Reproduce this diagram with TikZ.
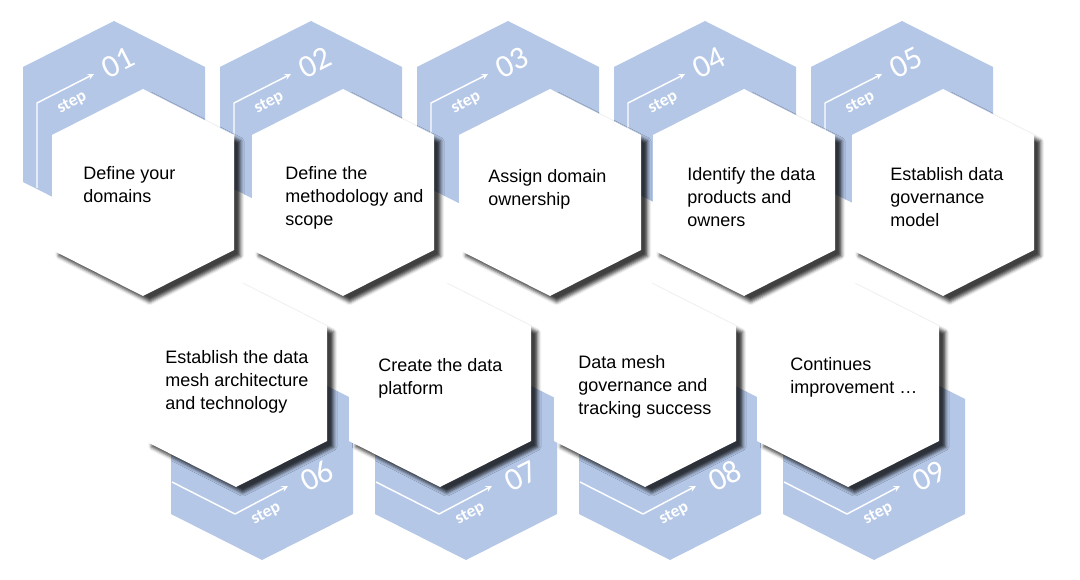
\documentclass[tikz,border=0pt]{standalone}
\usepackage{fontspec}
\setmainfont{Liberation Sans}
\newfontfamily\stepfont{Carlito}
\usetikzlibrary{shadows.blur}
\definecolor{stepblue}{RGB}{180,199,231}
\tikzset{
	backhex/.style={fill=stepblue},
	fronthex/.style={fill=white, blur shadow={shadow xshift=5pt,
		shadow yshift=-4.5pt, shadow blur radius=2.5pt, shadow opacity=75}},
	stepline/.style={white, line width=1.1pt},
	steptag/.style={text=white, inner sep=0pt, rotate=27,
		font=\stepfont\bfseries\fontsize{13}{13}\selectfont},
	stepnum/.style={text=white, inner sep=0pt, rotate=27,
		font=\stepfont\fontsize{24}{24}\selectfont},
	hextext/.style={anchor=north west, align=left, inner sep=0pt,
		font=\fontsize{13.5}{17.3}\selectfont}
}
% hexagon drawn from its centre
\def\hexpath{++(0,-103.5) -- ++(91,46) -- ++(0,115) -- ++(-91,46)
	-- ++(-91,-46) -- ++(0,-115) -- cycle}
\begin{document}
\begin{tikzpicture}[x=0.75pt, y=-0.75pt, line join=round, >=stealth]
	\useasboundingbox (0,0) rectangle (1080,580);
	% upper row, blue hexagons behind
	\foreach \n/\bx in {01/114,02/311,03/508,04/705,05/902}{
		\fill[backhex] (\bx,124.5) \hexpath;
		\draw[stepline,->] (\bx-77,188) -- (\bx-77,103) -- (\bx-20,74);
		\node[steptag] (tag\n) at (\bx-42,103) {step};
		\node[stepnum] (num\n) at (\bx+4,62.5) {\n};
	}
	% lower row, blue hexagons behind
	\foreach \n/\bx in {06/262,07/466,08/670,09/874}{
		\fill[backhex] (\bx,456.5) \hexpath;
		\draw[stepline,->] (\bx-90,482) -- (\bx-27,514) -- (\bx+26,486);
		\node[steptag] (tag\n) at (\bx+4,514) {step};
		\node[stepnum] (num\n) at (\bx+55,476) {\n};
	}
	% white hexagons
	\foreach \wx in {143,343,550,744,943}
		\path[fronthex] (\wx,192.5) \hexpath;
	\foreach \wx in {236,440,645,848}
		\path[fronthex] (\wx,383.5) \hexpath;
	\foreach \n/\tx/\ty/\txt in {
		1/83/166/{Define your\\domains},
		2/285/166/{Define the\\methodology and\\scope},
		3/488/169/{Assign domain\\ownership},
		4/687/167/{Identify the data\\products and\\owners},
		5/890/167/{Establish data\\governance\\model},
		6/165/350/{Establish the data\\mesh architecture\\and technology},
		7/378/358/{Create the data\\platform},
		8/578/355/{Data mesh\\governance and\\tracking success},
		9/790/357/{Continues\\improvement …}}
		\node[hextext] (step\n) at (\tx,\ty) {\txt};
\end{tikzpicture}
\end{document}
